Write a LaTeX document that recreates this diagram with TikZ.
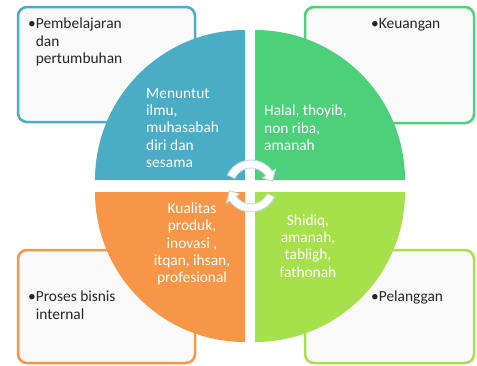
\documentclass[tikz,border=0pt]{standalone}
\usepackage{fontspec}
\setmainfont{Carlito}
\definecolor{qblue}{HTML}{4BACC6}
\definecolor{qgreen}{HTML}{4DD07A}
\definecolor{qorange}{HTML}{F79646}
\definecolor{qlime}{HTML}{A6E04A}
\definecolor{boxfill}{HTML}{F9F9F9}
\definecolor{arrline}{HTML}{C5D8E2}
\begin{document}
\begin{tikzpicture}[x=1pt,y=-1pt,
  box/.style={draw=#1, line width=2.5pt, rounded corners=9pt, fill=boxfill, inner sep=0pt},
  btext/.style={text=black!85, font=\fontsize{15.4}{17.5}\selectfont, inner sep=0pt, align=left},
  qtext/.style={text=white, font=\fontsize{15.4}{17.3}\selectfont, inner sep=0pt},
  circarrow/.style={fill=white, draw=arrline, line width=0.9pt, line join=round}]
\useasboundingbox (0,0) rectangle (477,365);

% outer boxes
\node[box=qblue,   minimum width=177pt, minimum height=115pt] (b1) at (106.5,64.5) {};
\node[box=qgreen,  minimum width=169pt, minimum height=116pt] (b2) at (389.5,65) {};
\node[box=qorange, minimum width=177pt, minimum height=113pt] (b3) at (106.5,306.5) {};
\node[box=qlime,   minimum width=169pt, minimum height=113pt] (b4) at (389.5,306.5) {};

% quadrants
\fill[qblue]   (245,180) -- (95,180)  arc[start angle=180,end angle=270,radius=150] -- cycle;
\fill[qgreen]  (255,180) -- (255,30)  arc[start angle=270,end angle=360,radius=150] -- cycle;
\fill[qorange] (245,192) -- (245,342) arc[start angle=90,end angle=180,radius=150] -- cycle;
\fill[qlime]   (255,192) -- (405,192) arc[start angle=0,end angle=90,radius=150] -- cycle;

% box texts
\node[btext, anchor=west] (l1) at (28,42) {•Pembelajaran\\\phantom{•}dan\\\phantom{•}pertumbuhan};
\node[btext, anchor=west] (l2) at (371,25) {•Keuangan};
\node[btext, anchor=west] (l3) at (28,305) {•Proses bisnis\\\phantom{•}internal};
\node[btext, anchor=west] (l4) at (371,297) {•Pelanggan};

% quadrant texts
\node[qtext, anchor=west, align=left] (t1) at (146,128) {Menuntut\\ilmu,\\muhasabah\\diri dan\\sesama};
\node[qtext, anchor=west, align=left] (t2) at (264,128) {Halal, thoyib,\\non riba,\\amanah};
\node[qtext, align=center] (t3) at (192,244) {Kualitas\\produk,\\inovasi ,\\itqan, ihsan,\\profesional};
\node[qtext, align=center] (t4) at (308,246) {Shidiq,\\amanah,\\tabligh,\\fathonah};

% circular arrows
\coordinate (c) at (251,186);
\begin{scope}[shift={(c)}]
\path[circarrow] (205:26) arc[start angle=205,end angle=325,radius=26]
  -- (325:30) -- (348:22) -- (325:14) -- (325:18)
  arc[start angle=325,end angle=205,radius=18] -- cycle;
\path[circarrow] (25:26) arc[start angle=25,end angle=145,radius=26]
  -- (145:30) -- (168:22) -- (145:14) -- (145:18)
  arc[start angle=145,end angle=25,radius=18] -- cycle;
\end{scope}
\end{tikzpicture}
\end{document}
